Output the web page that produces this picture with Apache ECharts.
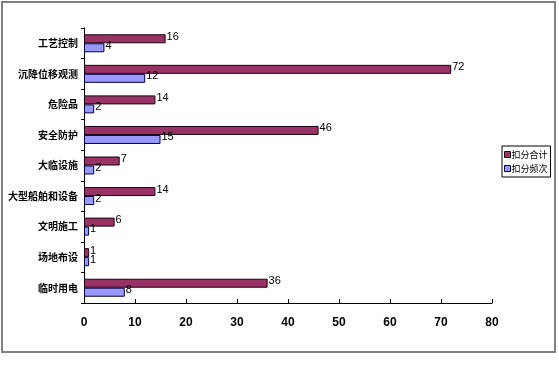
<!DOCTYPE html>
<html><head><meta charset="utf-8">
<script src="https://cdn.jsdelivr.net/npm/echarts@6/dist/echarts.min.js"></script>
<style>html,body{margin:0;padding:0;background:#fff}#c{width:559px;height:365px}</style>
</head><body><div id="c"></div>
<script>
const categories = ['工艺控制','沉降位移观测','危险品','安全防护','大临设施','大型船舶和设备','文明施工','场地布设','临时用电'];
const seriesNames = ['扣分合计','扣分频次'];
const totalScores = [16,72,14,46,7,14,6,1,36];
const frequency = [4,12,2,15,2,2,1,1,8];
const xTicks = [0,10,20,30,40,50,60,70,80];

const chart = echarts.init(document.getElementById('c'), null, {renderer:'canvas'});
const numFont = '"Liberation Sans Narrow", "Liberation Sans", sans-serif';
const lbl = {show:true, position:'right', distance:1, color:'#000', fontSize:11, fontFamily:numFont, offset:[0,-2]};
chart.setOption({
  animation:false,
  backgroundColor:'#fff',
  graphic:[{type:'rect', shape:{x:2,y:2,width:553,height:350}, style:{fill:'none', stroke:'#808080', lineWidth:2}, silent:true}],
  grid:{left:84, right:67, top:28, bottom:62, containLabel:false},
  legend:{
    orient:'vertical', left:502, top:146, itemWidth:6, itemHeight:6, itemGap:5, icon:'rect',
    padding:[4,3,4,2], borderColor:'#000', borderWidth:1, backgroundColor:'#fff',
    textStyle:{fontSize:9, color:'#000', padding:[0,0,0,-4], fontFamily:'Noto Sans CJK SC'},
    itemStyle:{borderWidth:1},
    data:seriesNames
  },
  xAxis:{
    type:'value', min:xTicks[0], max:xTicks[xTicks.length-1], interval:10,
    axisLine:{show:true, lineStyle:{color:'#000', width:1}},
    axisTick:{show:true, inside:true, length:4, lineStyle:{color:'#000'}},
    splitLine:{show:false},
    axisLabel:{color:'#000', fontSize:12, fontWeight:'bold', margin:14, fontFamily:numFont}
  },
  yAxis:{
    type:'category', data:categories, inverse:true,
    axisLine:{show:true, lineStyle:{color:'#000', width:1}},
    axisTick:{show:true, length:3, lineStyle:{color:'#000'}},
    axisLabel:{color:'#000', fontSize:10, fontWeight:'bold', margin:6, fontFamily:'Noto Sans CJK SC'}
  },
  series:[
    {name:seriesNames[0], type:'bar', data:totalScores, barWidth:9, barGap:'0%',
     itemStyle:{color:'#993366', borderColor:'#1a0010', borderWidth:1}, label:lbl},
    {name:seriesNames[1], type:'bar', data:frequency, barWidth:9, barGap:'0%',
     itemStyle:{color:'#9999ff', borderColor:'#000040', borderWidth:1}, label:lbl}
  ]
});
</script></body></html>
